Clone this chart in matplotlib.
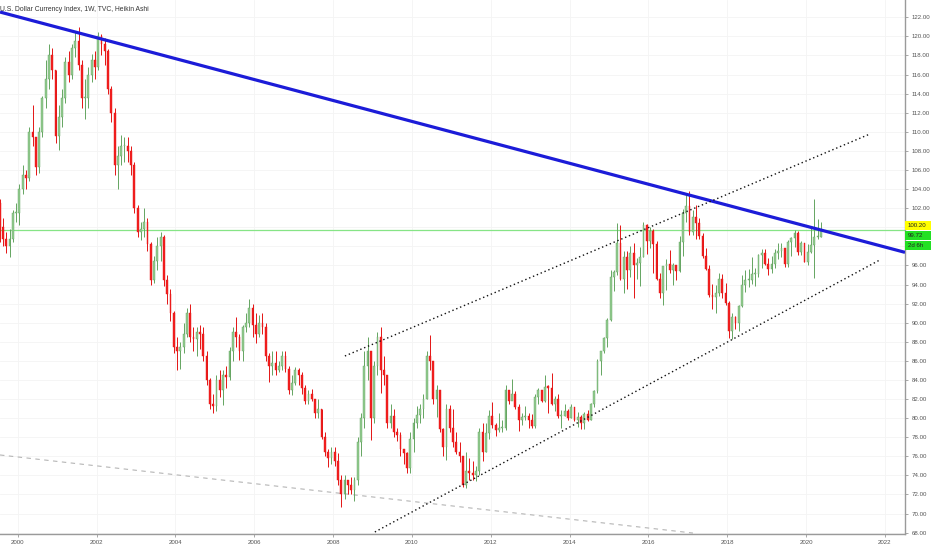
import matplotlib
matplotlib.use("Agg")
import matplotlib.pyplot as plt
import numpy as np
from matplotlib.patches import Rectangle

# ---------------- data (monthly candles, Jul 1999 .. May 2020) ----------------
start_year = 1999
start_month = 7
first_open = 102.5
close = [
    # 1999 Jul-Dec
    100.0, 98.8, 98.0, 98.8, 101.5, 101.5,
    # 2000
    104.0, 105.5, 105.2, 110.0, 109.5, 106.3, 110.0, 113.5, 115.5, 118.0, 116.5, 109.6,
    # 2001
    111.5, 113.5, 117.3, 116.0, 118.8, 119.5, 117.0, 113.5, 113.5, 116.0, 117.5, 116.8,
    # 2002
    120.0, 119.2, 118.5, 114.5, 112.0, 106.5, 107.5, 108.5, 108.5, 108.0, 106.5, 102.0,
    # 2003
    99.5, 99.8, 100.5, 98.2, 94.5, 96.5, 98.0, 99.0, 94.5, 93.0, 91.0, 87.5,
    # 2004
    87.0, 87.5, 88.8, 91.0, 88.5, 88.3, 89.0, 88.8, 86.5, 84.0, 81.5, 81.3,
    # 2005
    84.0, 83.0, 84.5, 84.3, 87.0, 89.0, 88.5, 87.0, 89.5, 90.0, 91.5, 89.8,
    # 2006
    88.8, 90.0, 89.5, 86.5, 85.5, 85.8, 85.0, 85.5, 86.5, 85.2, 83.0, 83.7,
    # 2007
    85.0, 84.5, 83.2, 81.8, 82.5, 82.0, 80.5, 81.0, 78.0, 76.5, 75.8, 76.5,
    # 2008
    75.5, 73.5, 72.0, 73.5, 73.0, 72.5, 73.5, 77.5, 80.0, 85.5, 87.0, 80.0,
    # 2009
    85.5, 88.5, 85.0, 84.5, 79.5, 80.2, 78.5, 78.2, 76.8, 76.3, 74.8, 77.8,
    # 2010
    79.5, 80.3, 81.0, 82.0, 86.5, 86.0, 82.0, 83.0, 78.9, 77.0, 81.0, 79.0,
    # 2011
    77.5, 76.5, 76.0, 73.0, 74.5, 74.3, 74.0, 74.5, 78.5, 76.5, 78.4, 80.2,
    # 2012
    79.3, 78.8, 79.0, 79.0, 83.0, 81.8, 82.5, 81.2, 79.8, 80.1, 80.2, 79.8,
    # 2013
    79.2, 82.2, 83.0, 81.8, 83.3, 83.2, 81.5, 82.0, 80.2, 80.2, 80.7, 80.0,
    # 2014
    81.2, 79.8, 80.1, 79.5, 80.4, 79.8, 81.5, 82.8, 86.0, 87.0, 88.4, 90.3,
    # 2015
    94.8, 95.3, 98.4, 94.6, 96.9, 95.5, 97.3, 96.0, 96.3, 96.9, 100.2, 98.6,
    # 2016
    99.6, 98.2, 94.6, 93.1, 95.9, 96.1, 95.5, 96.0, 95.4, 98.5, 101.5, 102.2,
    # 2017
    99.5, 101.1, 100.4, 99.1, 97.0, 95.6, 92.9, 92.7, 93.1, 94.6, 93.1, 92.1,
    # 2018
    89.1, 90.6, 90.0, 91.8, 93.9, 94.5, 94.5, 95.1, 95.1, 97.1, 97.3, 96.2,
    # 2019
    95.6, 96.2, 97.3, 97.5, 97.8, 96.1, 98.5, 98.9, 99.4, 97.4, 98.3, 96.4,
    # 2020 Jan-May
    97.4, 98.1, 99.0, 99.0, 99.7,
]
high = [
    103.0, 101.0, 99.5, 99.8, 101.8, 102.5,
    104.5, 106.5, 106.0, 110.5, 112.8, 109.5, 110.5, 113.8, 117.5, 119.2, 118.8, 116.5,
    112.8, 114.5, 117.8, 118.5, 119.2, 120.5, 121.0, 117.5, 115.5, 116.8, 118.2, 118.5,
    120.5, 120.3, 119.8, 118.7, 114.8, 112.5, 108.5, 109.7, 109.5, 109.5, 108.5, 106.8,
    102.3, 100.5, 102.0, 101.0, 98.5, 97.0, 99.0, 99.5, 99.2, 95.0, 93.5, 91.2,
    88.5, 88.0, 90.0, 91.5, 92.0, 89.5, 89.5, 89.8, 89.5, 87.0, 84.2, 82.5,
    84.5, 85.0, 85.0, 85.5, 87.5, 89.5, 90.6, 88.8, 89.8, 91.0, 92.5, 92.0,
    91.0, 90.8, 91.0, 90.0, 86.8, 87.0, 87.0, 86.0, 87.0, 87.0, 85.5, 84.5,
    85.4, 85.3, 84.8, 83.5, 83.0, 83.1, 82.0, 82.0, 81.0, 78.5, 76.8, 77.0,
    77.0, 76.3, 74.0, 74.0, 73.5, 73.8, 73.8, 78.0, 80.5, 87.0, 88.5, 87.0,
    86.0, 89.0, 89.6, 86.5, 84.5, 81.5, 81.0, 79.0, 78.5, 76.8, 76.5, 78.5,
    80.0, 81.3, 81.5, 82.5, 87.0, 88.7, 86.0, 83.5, 83.0, 79.0, 81.5, 81.4,
    81.0, 78.5, 77.5, 76.0, 76.5, 75.8, 75.5, 75.0, 79.0, 79.5, 79.5, 80.8,
    81.7, 79.5, 80.5, 79.8, 83.5, 83.0, 84.1, 82.8, 81.5, 80.5, 81.3, 80.5,
    80.4, 82.5, 83.2, 83.0, 84.5, 83.5, 84.75, 82.3, 82.5, 80.8, 81.5, 81.0,
    81.5, 81.2, 80.6, 80.3, 80.6, 80.8, 81.6, 82.9, 86.2, 87.0, 88.5, 90.5,
    95.5, 95.5, 100.4, 100.2, 97.5, 97.5, 98.0, 98.3, 96.8, 97.9, 100.5, 100.3,
    100.0, 99.8, 98.6, 95.2, 95.9, 96.7, 97.6, 96.3, 96.0, 99.1, 101.9, 103.6,
    103.8, 101.8, 102.3, 101.0, 99.4, 97.8, 96.0, 94.1, 93.9, 95.2, 95.1, 94.2,
    92.3, 91.0, 90.7, 91.9, 95.0, 95.5, 95.6, 96.9, 95.7, 97.2, 97.7, 97.7,
    96.8, 97.0, 97.7, 98.3, 98.4, 97.8, 98.7, 99.0, 99.7, 99.6, 98.6, 98.3,
    98.2, 99.9, 102.99, 100.9, 100.5,
]
low = [
    98.5, 98.0, 97.3, 96.9, 98.5, 100.5,
    100.2, 103.5, 104.0, 104.8, 108.5, 105.5, 105.7, 109.5, 112.5, 114.5, 115.5, 108.8,
    108.1, 110.5, 113.0, 115.2, 115.5, 117.8, 116.5, 112.5, 111.3, 112.5, 115.2, 115.5,
    116.5, 118.0, 117.0, 114.0, 111.0, 105.5, 104.0, 106.5, 106.8, 106.8, 105.5, 101.5,
    99.0, 98.7, 99.0, 97.5, 93.9, 94.2, 95.5, 96.5, 93.8, 92.0, 90.2, 86.8,
    85.0, 85.2, 86.8, 88.5, 88.0, 87.0, 86.5, 87.2, 86.0, 83.5, 81.0, 80.5,
    80.7, 82.2, 81.4, 83.2, 84.0, 86.0, 87.5, 86.1, 86.0, 89.0, 89.5, 88.5,
    87.9, 88.5, 88.8, 86.0, 83.8, 84.5, 84.5, 84.8, 85.0, 84.8, 82.5, 82.4,
    83.5, 83.5, 82.5, 81.5, 81.5, 81.8, 80.0, 80.0, 77.8, 76.0, 74.9, 75.2,
    75.0, 73.0, 70.7, 71.5, 72.0, 72.0, 71.3, 73.0, 76.0, 79.0, 84.0, 77.7,
    79.5, 84.5, 82.6, 83.5, 79.0, 79.0, 78.0, 77.6, 76.0, 75.2, 74.2, 74.3,
    76.5, 79.0, 79.5, 80.0, 82.0, 85.0, 81.5, 80.1, 78.5, 76.0, 75.6, 78.5,
    77.0, 76.2, 75.4, 72.8, 72.7, 73.5, 73.5, 73.4, 74.0, 75.5, 76.5, 77.8,
    79.0, 78.1, 78.5, 78.5, 78.8, 81.5, 82.0, 81.0, 78.6, 79.3, 79.8, 79.0,
    79.0, 79.0, 81.5, 81.7, 81.7, 80.5, 81.4, 80.7, 80.0, 79.0, 80.2, 79.8,
    80.0, 79.7, 79.1, 78.9, 78.9, 79.7, 79.8, 81.2, 82.6, 84.5, 86.8, 87.5,
    90.2, 93.3, 95.0, 94.5, 93.1, 93.5, 94.8, 92.6, 94.6, 93.8, 96.9, 97.2,
    97.8, 95.2, 94.5, 92.6, 91.9, 93.4, 95.2, 94.0, 94.5, 95.3, 97.0, 100.5,
    99.2, 99.2, 98.8, 98.8, 96.8, 95.5, 92.7, 91.4, 91.0, 92.8, 92.6, 91.9,
    88.4, 88.25, 89.3, 89.1, 91.6, 93.2, 93.7, 94.1, 93.8, 94.8, 95.7, 96.0,
    95.0, 95.2, 95.7, 96.7, 96.9, 95.8, 95.8, 97.0, 97.9, 97.1, 97.1, 96.4,
    96.0, 97.3, 94.65, 98.8, 99.0,
]
x_ticks = list(range(2000, 2023, 2))
y_ticks = list(range(68, 123, 2))
hidden_y_labels = [98, 100]  # covered by the price boxes in the reference
title = "U.S. Dollar Currency Index, 1W, TVC, Heikin Ashi"
last_price = 99.72
marker_price = 100.20
countdown = "2d 6h"
# drawn lines (start/end as (year, price))
blue_trend = [(1999.55, 122.55), (2022.51, 97.37)]
upper_channel = [(2008.30, 86.51), (2021.62, 109.77)]
lower_channel = [(2009.06, 68.07), (2021.87, 96.57)]
grey_dashed = [(1999.55, 76.14), (2017.13, 67.96)]

# ---------------- figure ----------------
W, H = 932, 550
fig = plt.figure(figsize=(W / 100, H / 100), dpi=100)
fig.patch.set_facecolor("white")
ax = fig.add_axes([0, 16 / H, 905 / W, 534 / H])
ax.set_xlim(1999.55, 2022.51)
ax.set_ylim(67.86, 123.81)

n = len(close)
t = np.array([start_year + (start_month - 1 + i) / 12.0 + 1 / 24.0 for i in range(n)])
c = np.array(close)
o = np.concatenate([[first_open], c[:-1]])
hi = np.array(high)
lo = np.array(low)
up = c >= o

green_body = "#93cb90"
green_wick = "#64a561"
red_body = "#f22020"
red_wick = "#e41414"

for mask, body, wick in [(up, green_body, green_wick), (~up, red_body, red_wick)]:
    ax.vlines(t[mask], lo[mask], hi[mask], colors=wick, linewidth=0.7, zorder=3)
    bottoms = np.minimum(o, c)[mask]
    heights = np.maximum(np.abs(c - o)[mask], 0.12)
    ax.bar(t[mask], heights, bottom=bottoms, width=0.045, color=body,
           edgecolor=wick, linewidth=0.3, zorder=4)

# lines
ax.axhline(last_price, color="#86e486", linewidth=0.9, zorder=2)
(x0, y0), (x1, y1) = blue_trend
ax.plot([x0, x1], [y0, y1], color="#1c1cd8", linewidth=2.3, zorder=5,
        solid_capstyle="butt")
for seg in (upper_channel, lower_channel):
    (x0, y0), (x1, y1) = seg
    ax.plot([x0, x1], [y0, y1], color="#111111", linewidth=1.0,
            linestyle=(0, (1, 2)), zorder=5)
(x0, y0), (x1, y1) = grey_dashed
ax.plot([x0, x1], [y0, y1], color="#b5b5b5", linewidth=0.8,
        linestyle=(0, (4, 4)), zorder=2)

# axes styling
for s in ("left", "top"):
    ax.spines[s].set_visible(False)
for s in ("right", "bottom"):
    ax.spines[s].set_color("#9a9a9a")
    ax.spines[s].set_linewidth(1.0)
ax.yaxis.tick_right()
ax.set_yticks(y_ticks)
ax.set_yticklabels(["" if v in hidden_y_labels else f"{v:.2f}" for v in y_ticks])
ax.set_xticks(x_ticks)
ax.set_xticklabels([str(v) for v in x_ticks])
ax.tick_params(axis="both", colors="#9a9a9a", labelcolor="#555555",
               labelsize=4.4, length=2.5, width=0.6, pad=2)
for lab in ax.get_xticklabels() + ax.get_yticklabels():
    lab.set_family("Liberation Sans")
ax.grid(True, color="#f4f4f4", linewidth=0.6, zorder=0)
ax.set_axisbelow(True)

# title
fig.text(0.0, 1 - 9.3 / H, title, fontsize=4.9, color="#333333",
         family="Liberation Sans", va="center", ha="left")

# right-side price labels
def price_box(y_top, y_bot, color, text):
    fig.patches.append(Rectangle((905 / W, 1 - y_bot / H), 26 / W, (y_bot - y_top) / H,
                                 transform=fig.transFigure, facecolor=color,
                                 edgecolor="none", zorder=10))
    fig.text(908 / W, 1 - (y_top + y_bot) / 2 / H, text, fontsize=4.4,
             color="#222222", family="Liberation Sans", va="center", ha="left",
             zorder=11)

price_box(220.7, 229.5, "#ffff00", f"{marker_price:.2f}")
price_box(230.7, 239.5, "#22e022", f"{last_price:.2f}")
price_box(241.0, 250.0, "#22e022", countdown)

fig.savefig("out.png", dpi=100, facecolor="white")
